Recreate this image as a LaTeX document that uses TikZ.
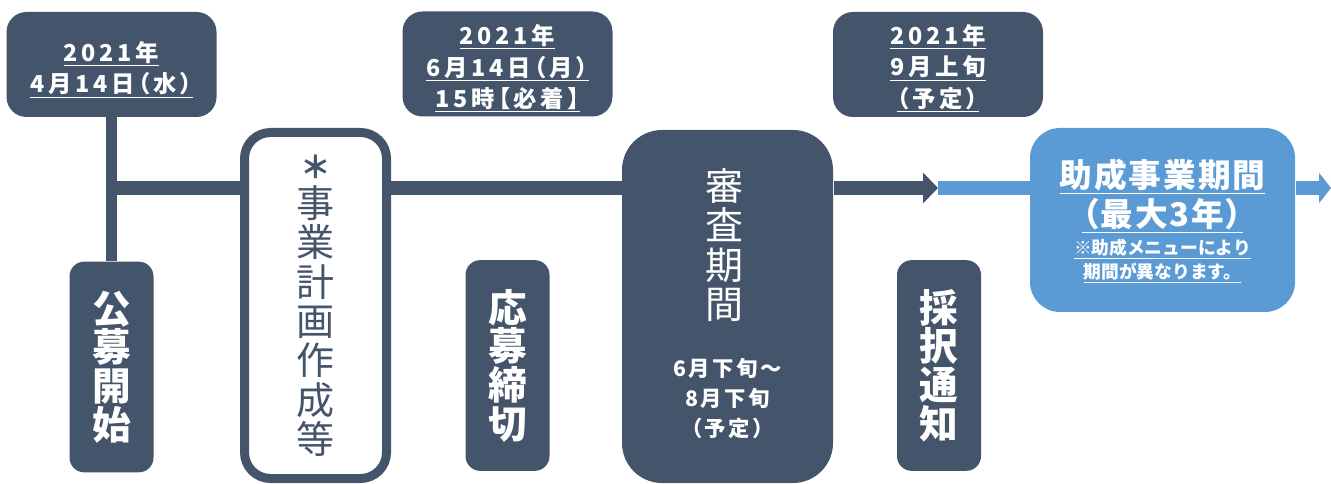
\documentclass[tikz,border=0pt]{standalone}
\usepackage{fontspec}
\setmainfont{Noto Sans CJK JP}
\usepackage{tikz}
\usetikzlibrary{arrows.meta}
\definecolor{slate}{HTML}{44546A}
\definecolor{sky}{HTML}{5B9BD5}
\newcommand\datefont{\fontsize{17.5}{23.6}\selectfont\bfseries\addfontfeature{RawFeature=+palt,LetterSpace=16}}
\newcommand\stagefont{\fontsize{29}{29}\selectfont\bfseries}
\newcommand\planfont{\fontsize{28.5}{29.5}\selectfont}
\newcommand\termfont{\fontsize{16}{22.5}\selectfont\bfseries\addfontfeature{LetterSpace=12}}
\newcommand\granttitlefont{\fontsize{24.5}{29.5}\selectfont\bfseries\addfontfeature{RawFeature=+palt,LetterSpace=6}}
\newcommand\grantnotefont{\fontsize{13.3}{18}\selectfont\bfseries}
\tikzset{every picture/.style={line width=0.75pt}}
\tikzset{
  datebox/.style={fill=slate, rounded corners=15pt, minimum width=157.5pt, minimum height=78.75pt, inner sep=0pt},
  stagebox/.style={fill=slate, rounded corners=11pt, minimum width=63pt, minimum height=158pt, inner sep=0pt, text=white, align=center, font=\stagefont},
  planbox/.style={fill=white, draw=slate, line width=6.75pt, rounded corners=19.5pt, minimum width=106.5pt, minimum height=259.5pt, inner sep=0pt, text=slate, align=center, font=\planfont},
  reviewbox/.style={fill=slate, rounded corners=30pt, minimum width=158.25pt, minimum height=264.75pt, inner sep=0pt},
  grantbox/.style={fill=sky, rounded corners=22.5pt, minimum width=198.75pt, minimum height=138pt, inner sep=0pt},
  whitetext/.style={text=white, align=center, inner sep=0pt},
  stem/.style={draw=slate, line width=8.25pt},
  trunk/.style={draw=slate, line width=10.5pt}
}

\begin{document}
\begin{tikzpicture}[x=0.75pt,y=0.75pt,yscale=-1,xscale=1]
\useasboundingbox (0,0) rectangle (1331,484);

%Date boxes
\node[datebox] (openDate) at (111.5,64.5) {};
\node[datebox] (closeDate) at (507.5,64) {};
\node[datebox] (noticeDate) at (938,64.5) {};
% Text Node
\node[whitetext, font=\datefont] (openDateText) at (111.5,69.5) {\underline{2021年}\\\underline{4月14日（水）}};
% Text Node
\node[whitetext, font=\datefont] (closeDateText) at (507.5,68.5) {\underline{2021年}\\\underline{6月14日（月）}\\\underline{15時【必着】}};
% Text Node
\node[whitetext, font=\datefont] (noticeDateText) at (938,68.5) {\underline{2021年}\\\underline{9月上旬}\\\underline{（予定）}};

%Stage boxes
\node[stagebox] (openStage) at (111.5,367) {公\\募\\開\\始};
\node[stagebox] (closeStage) at (507.5,365.5) {応\\募\\締\\切};
\node[stagebox] (noticeStage) at (939,365.5) {採\\択\\通\\知};

%Shape: Rectangle
\node[planbox] (plan) at (315.5,305.5) {{\fontsize{23}{29.5}\selectfont\bfseries ＊}\\事\\業\\計\\画\\作\\成\\等};

%Shape: Rectangle
\node[reviewbox] (review) at (727.5,306.5) {};
% Text Node
\node[whitetext, font=\planfont] (reviewTitle) at (724,245) {審\\査\\期\\間};
% Text Node
\node[whitetext, font=\termfont] (reviewTerm) at (727.5,398) {6月下旬～\\8月下旬\\（予定）};

%Shape: Rectangle
\node[grantbox] (grant) at (1162.5,220) {};
% Text Node
\node[whitetext, font=\granttitlefont] (grantTitle) at (1162.5,196) {\underline{助成事業期間}\\\underline{（最大3年）}};
% Text Node
\node[whitetext, font=\grantnotefont] (grantNote) at (1162.5,261) {\underline{※助成メニューにより}\\\underline{期間が異なります。}};

%Straight Lines
\coordinate (join) at (111.5,188);
\coordinate (tip) at (938,188);
\coordinate (edge) at (1331,188);
\draw[stem] (openDate) -- (openStage);
\draw[trunk] (join) -- (join -| plan.west);
\draw[trunk] (plan.east |- join) -- (join -| review.west);
\draw[trunk, -{Triangle[length=11.25pt, width=22.5pt]}] (review.east |- join) -- (tip);
\draw[trunk, color=sky] (tip) -- (join -| grant.west);
\draw[trunk, color=sky, -{Triangle[length=9pt, width=22.5pt]}] (grant.east |- join) -- (edge);

\end{tikzpicture}
\end{document}
